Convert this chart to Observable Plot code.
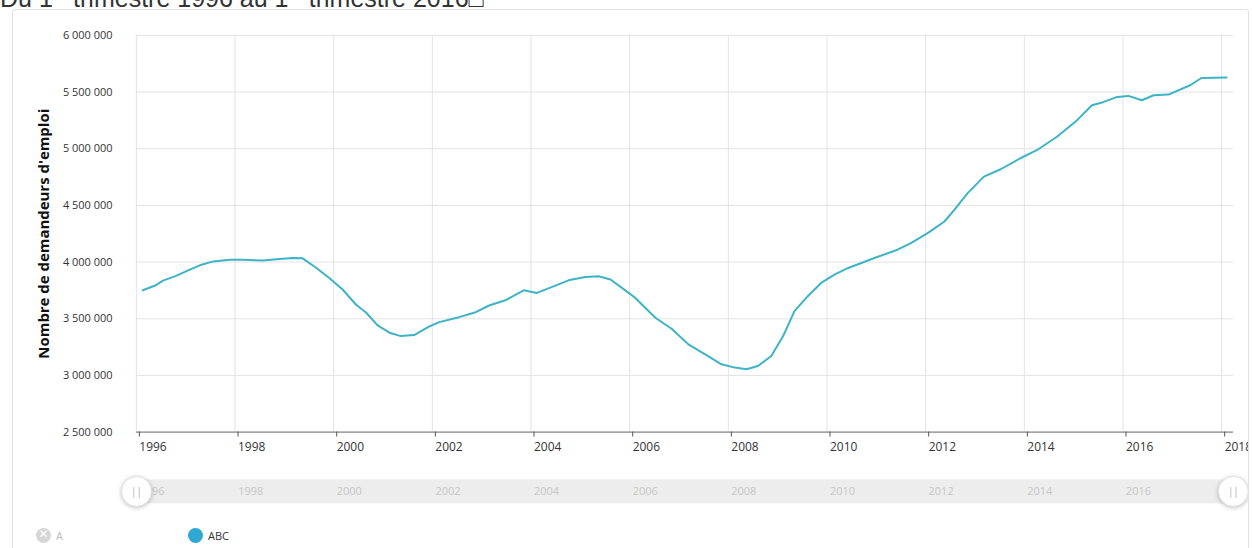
<!DOCTYPE html>
<html>
<head>
<meta charset="utf-8">
<script src="https://cdn.jsdelivr.net/npm/d3@7"></script>
<script src="https://cdn.jsdelivr.net/npm/@observablehq/plot@0.6"></script>
<style>
  html, body { margin: 0; padding: 0; background: #fff; }
  body { width: 1252px; height: 548px; overflow: hidden; position: relative; font-family: "Open Sans", "Liberation Sans", sans-serif; }
  #title { position: absolute; left: 0; top: -14px; font: 25px/25px "Liberation Sans", Arial, sans-serif; color: #333; white-space: nowrap; z-index: 3; }
  #title sup { font-size: 15px; line-height: 0; }
  #card { position: absolute; left: 12px; top: 9px; width: 1235px; height: 600px; border: 1px solid #e0e0e0; border-radius: 3px; overflow: hidden; z-index: 1; }
  #main { position: absolute; left: -13px; top: -10px; }
  #nav { position: absolute; left: -13px; top: 461px; }
  #nav circle { filter: drop-shadow(0 1px 2px rgba(0,0,0,0.25)); }
  #legend { position: absolute; left: -13px; top: 516px; width: 1252px; height: 20px; font-size: 11px; }
  .li { position: absolute; top: 0; display: flex; align-items: center; height: 18px; }
  .sw { width: 15px; height: 15px; border-radius: 50%; display: inline-block; margin-right: 5px; position: relative; }
</style>
</head>
<body>
<div id="title">Du 1<sup>er</sup> trimestre 1996 au 1<sup>er</sup> trimestre 2016□</div>
<div id="card">
  <div id="main"></div>
  <div id="nav"></div>
  <div id="legend">
    <div class="li" style="left:36px;"><span class="sw" style="background:#d6d6d6;"><span style="position:absolute;left:0;top:-1px;width:15px;text-align:center;color:#fff;font:bold 12px 'DejaVu Sans';">✕</span></span><span style="color:#bbb;">A</span></div>
    <div class="li" style="left:188px;"><span class="sw" style="background:#2fa8d3;"></span><span id="abc" style="color:#333;"></span></div>
  </div>
</div>
<script>
// Series: number of job seekers (categories ABC), decimal year -> value
const years = [
  1996.13, 1996.38, 1996.55, 1996.78, 1997.05, 1997.32, 1997.56, 1997.89, 1998.16, 1998.57,
  1998.90, 1999.17, 1999.37, 1999.65, 1999.91, 2000.18, 2000.45, 2000.66, 2000.89, 2001.13,
  2001.36, 2001.63, 2001.93, 2002.14, 2002.54, 2002.88, 2003.15, 2003.48, 2003.85, 2004.12,
  2004.43, 2004.76, 2005.10, 2005.37, 2005.61, 2005.98, 2006.11, 2006.52, 2006.85, 2007.19,
  2007.53, 2007.86, 2008.13, 2008.37, 2008.60, 2008.87, 2009.11, 2009.34, 2009.61, 2009.88,
  2010.15, 2010.43, 2010.96, 2011.43, 2011.70, 2012.04, 2012.38, 2012.58, 2012.85, 2013.18,
  2013.52, 2013.92, 2014.26, 2014.66, 2015.07, 2015.37, 2015.61, 2015.88, 2016.11, 2016.38,
  2016.62, 2016.92, 2017.36, 2017.59, 2018.10
];
const values = [
  3751000, 3793000, 3839000, 3874000, 3927000, 3977000, 4006000, 4021000, 4021000, 4013000,
  4027000, 4036000, 4033000, 3948000, 3860000, 3758000, 3626000, 3553000, 3441000, 3377000,
  3347000, 3356000, 3430000, 3470000, 3514000, 3558000, 3617000, 3663000, 3751000, 3728000,
  3781000, 3839000, 3869000, 3875000, 3846000, 3728000, 3685000, 3509000, 3412000, 3274000,
  3186000, 3098000, 3069000, 3054000, 3083000, 3171000, 3347000, 3567000, 3699000, 3816000,
  3889000, 3948000, 4036000, 4109000, 4168000, 4256000, 4358000, 4461000, 4608000, 4754000,
  4819000, 4916000, 4989000, 5106000, 5252000, 5384000, 5413000, 5457000, 5466000, 5428000,
  5472000, 5478000, 5560000, 5624000, 5628000
];
const xTicks = [1996, 1998, 2000, 2002, 2004, 2006, 2008, 2010, 2012, 2014, 2016, 2018];
const yTicks = [2500000, 3000000, 3500000, 4000000, 4500000, 5000000, 5500000, 6000000];
const yTitle = "Nombre de demandeurs d'emploi";
const seriesName = "ABC";
document.getElementById("abc").textContent = seriesName;

const data = years.map((t, i) => ({t, v: values[i]}));
const xDomain = [1996, 2018.24];
const fmt = d => d3.format(",")(d).replace(/,/g, " ");
const font = "'Open Sans', 'Liberation Sans', sans-serif";

const main = Plot.plot({
  width: 1252, height: 470,
  marginTop: 35, marginLeft: 136.3, marginRight: 15, marginBottom: 37,
  style: {fontFamily: font, fontSize: "11px", color: "#333", background: "transparent"},
  x: {domain: xDomain},
  y: {domain: [2500000, 6000000]},
  marks: [
    Plot.gridY(yTicks, {stroke: "#e3e3e3", strokeOpacity: 1}),
    Plot.gridX(xTicks, {stroke: "#e3e3e3", strokeOpacity: 1}),
    Plot.ruleY([2500000], {stroke: "#6f6f6f", strokeWidth: 1}),
    Plot.axisX(xTicks, {tickSize: 5, tickPadding: 5, textAnchor: "start", dx: 3, fontSize: 12, tickFormat: d => String(d), label: null, stroke: "#555", fill: "#333"}),
    Plot.axisY(yTicks, {tickSize: 0, tickPadding: 24, tickFormat: fmt, label: null, fill: "#333"}),
    Plot.text([yTitle], {frameAnchor: "left", textAnchor: "middle", dx: -92, rotate: -90, fontWeight: "bold", fontSize: 15, fill: "#111"}),
    Plot.line(data, {x: "t", y: "v", stroke: "#3db4c6", strokeWidth: 2, curve: "linear"})
  ]
});
document.getElementById("main").appendChild(main);

const nav = Plot.plot({
  width: 1252, height: 40,
  marginTop: 8, marginLeft: 136.3, marginRight: 15, marginBottom: 8,
  style: {fontFamily: font, fontSize: "11px", background: "transparent", overflow: "visible"},
  x: {domain: xDomain, axis: null},
  y: {axis: null},
  marks: [
    Plot.frame({fill: "#ededed", stroke: null, insetLeft: -10, insetRight: -4}),
    Plot.text(xTicks.slice(0, -1), {x: d => d, frameAnchor: "middle", textAnchor: "start", dx: 3, fill: "#c6c6c6", text: d => String(d)}),
    Plot.dot(xDomain, {x: d => d, frameAnchor: "middle", r: 15, fill: "#fff", stroke: "#e0e0e0", strokeWidth: 1}),
    Plot.text(xDomain, {x: d => d, frameAnchor: "middle", text: () => "||", fill: "#b0b0b0", fontSize: 10})
  ]
});
document.getElementById("nav").appendChild(nav);
</script>
</body>
</html>
